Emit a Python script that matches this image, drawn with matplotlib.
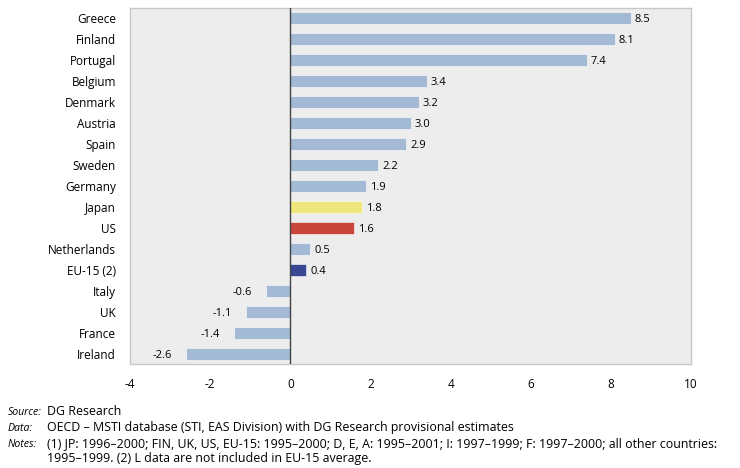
import matplotlib
matplotlib.use("Agg")
from matplotlib import pyplot as plt

countries = ["Greece", "Finland", "Portugal", "Belgium", "Denmark", "Austria", "Spain",
             "Sweden", "Germany", "Japan", "US", "Netherlands", "EU-15 (2)", "Italy",
             "UK", "France", "Ireland"]
values = [8.5, 8.1, 7.4, 3.4, 3.2, 3.0, 2.9, 2.2, 1.9, 1.8, 1.6, 0.5, 0.4, -0.6, -1.1, -1.4, -2.6]
xticks = [-4, -2, 0, 2, 4, 6, 8, 10]

base = "#a3b9d4"
special = {"Japan": "#efe77c", "US": "#c9463d", "EU-15 (2)": "#3a4893"}
colors = [special.get(c, base) for c in countries]

plt.rcParams['font.family'] = ['Open Sans', 'DejaVu Sans']

fig = plt.figure(figsize=(7.4, 4.68), dpi=100)
ax = fig.add_axes([130 / 740, 1 - 364 / 468, 561 / 740, 356 / 468])
ax.set_facecolor("#ededed")

ypos = list(range(len(countries)))
ax.barh(ypos, values, height=0.58, color=colors, edgecolor="white", linewidth=0.4, zorder=2)
ax.axvline(0, color="#444444", linewidth=1.0, zorder=3)

for y, v in zip(ypos, values):
    if v >= 0:
        ax.text(v + 0.1, y, "%.1f" % v, va="center_baseline", ha="left", fontsize=8)
    else:
        ax.text(v - 0.35, y, "%.1f" % v, va="center_baseline", ha="right", fontsize=8)

ax.set_ylim(16.48, -0.48)
ax.set_xlim(-4, 10)
ax.set_xticks(xticks)
ax.set_xticklabels([str(t) for t in xticks], fontsize=8.5)
ax.set_yticks(ypos)
ax.set_yticklabels(countries, fontsize=8.5)
ax.tick_params(length=0, pad=10)
for s in ax.spines.values():
    s.set_color("#c8c8c8")
    s.set_linewidth(1.0)

labels = ["Source:", "Data:", "Notes:", ""]
lines = [
    "DG Research",
    "OECD \u2013 MSTI database (STI, EAS Division) with DG Research provisional estimates",
    "(1) JP: 1996\u20132000; FIN, UK, US, EU-15: 1995\u20132000; D, E, A: 1995\u20132001; I: 1997\u20131999; "
    "F: 1997\u20132000; all other countries:",
    "1995\u20131999. (2) L data are not included in EU-15 average.",
]
baselines = [415, 431, 447, 462]
for lab, txt, yy in zip(labels, lines, baselines):
    if lab:
        fig.text(8 / 740, 1 - yy / 468, lab, fontsize=7.6, style="italic", va="baseline")
    fig.text(47 / 740, 1 - yy / 468, txt, fontsize=8.9, va="baseline")

fig.savefig("out.png", dpi=100)
